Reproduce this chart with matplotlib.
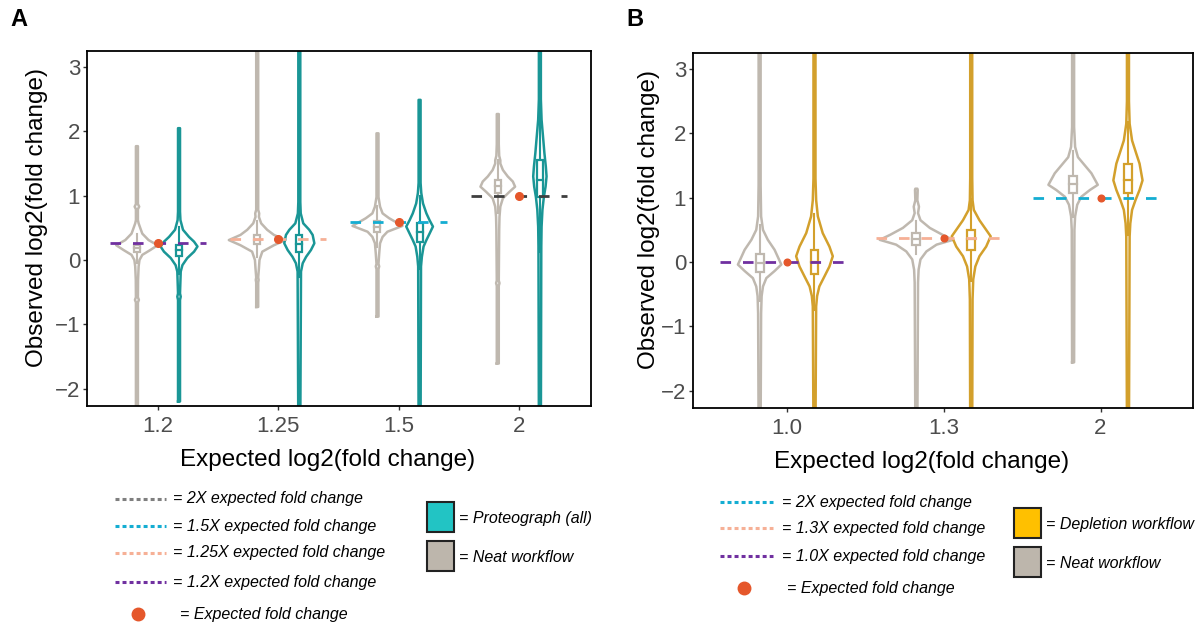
import numpy as np
import matplotlib.pyplot as plt
from matplotlib.lines import Line2D
from matplotlib.patches import Rectangle

plt.rcParams["font.family"] = ["Liberation Sans", "DejaVu Sans"]

# ---- panel A data ----
A_GROUPS = ["1.2", "1.25", "1.5", "2"]
A_EXPECTED = [0.263, 0.322, 0.585, 1.0]
A_REF_COLORS = ["#7030A0", "#F6B096", "#14ADD2", "#3F3F3F"]

# violin profiles: (log2 value, relative density)
A_NEAT_PROFILES = [
    [(-2.6, 0.035), (-0.66, 0.035), (-0.62, 0.07), (-0.58, 0.035), (-0.31, 0.04), (-0.10, 0.06),
     (0.0, 0.09), (0.08, 0.19), (0.155, 0.47), (0.23, 0.73), (0.31, 0.41), (0.41, 0.19),
     (0.47, 0.14), (0.57, 0.06), (0.62, 0.035), (0.79, 0.035), (0.83, 0.08), (0.87, 0.035), (1.77, 0.035)],
    [(-0.73, 0.035), (-0.35, 0.035), (-0.31, 0.05), (-0.27, 0.035), (-0.13, 0.06), (0.0, 0.08),
     (0.13, 0.18), (0.23, 0.59), (0.31, 1.0), (0.39, 0.59), (0.47, 0.35), (0.57, 0.14),
     (0.67, 0.06), (0.725, 0.07), (0.78, 0.035), (3.5, 0.035)],
    [(-0.88, 0.035), (-0.14, 0.035), (-0.10, 0.06), (-0.06, 0.035), (0.10, 0.06), (0.26, 0.09),
     (0.36, 0.18), (0.44, 0.35), (0.53, 0.88), (0.65, 0.41), (0.725, 0.18), (0.83, 0.09),
     (0.98, 0.035), (1.97, 0.035)],
    [(-1.61, 0.035), (-0.40, 0.035), (-0.36, 0.06), (-0.32, 0.035), (0.47, 0.05), (0.67, 0.06),
     (0.83, 0.09), (0.96, 0.18), (1.06, 0.41), (1.14, 0.61), (1.22, 0.53), (1.30, 0.35),
     (1.40, 0.18), (1.50, 0.09), (1.55, 0.09), (1.62, 0.05), (1.8, 0.035), (2.27, 0.035)],
]
A_PROT_PROFILES = [
    [(-2.2, 0.035), (-0.62, 0.035), (-0.57, 0.06), (-0.52, 0.035), (-0.18, 0.06), (-0.08, 0.12),
     (0.03, 0.29), (0.13, 0.53), (0.21, 0.65), (0.285, 0.53), (0.36, 0.35), (0.47, 0.14),
     (0.62, 0.05), (0.75, 0.035), (2.05, 0.035)],
    [(-2.6, 0.035), (-0.18, 0.06), (-0.05, 0.12), (0.05, 0.24), (0.155, 0.41), (0.26, 0.53),
     (0.39, 0.47), (0.47, 0.35), (0.57, 0.14), (0.725, 0.05), (0.9, 0.035), (3.5, 0.035)],
    [(-2.6, 0.035), (-0.1, 0.05), (0.05, 0.08), (0.21, 0.14), (0.31, 0.24), (0.41, 0.35),
     (0.52, 0.47), (0.62, 0.35), (0.725, 0.24), (0.88, 0.12), (1.04, 0.06), (1.2, 0.035), (2.49, 0.035)],
    [(-2.6, 0.035), (0.21, 0.05), (0.52, 0.06), (0.78, 0.09), (0.98, 0.14), (1.14, 0.2),
     (1.30, 0.235), (1.45, 0.21), (1.66, 0.16), (1.87, 0.12), (2.18, 0.06), (2.5, 0.035), (3.5, 0.035)],
]
# boxes: (whisker low, q1, median, q3, whisker high)
A_NEAT_BOX = [(-0.05, 0.12, 0.19, 0.23, 0.40), (0.04, 0.25, 0.31, 0.39, 0.60),
              (0.20, 0.44, 0.52, 0.60, 0.84), (0.73, 1.04, 1.15, 1.25, 1.56)]
A_PROT_BOX = [(-0.21, 0.06, 0.155, 0.24, 0.51), (-0.26, 0.13, 0.25, 0.39, 0.78),
              (-0.14, 0.285, 0.44, 0.57, 1.0), (0.12, 0.98, 1.25, 1.55, 2.4)]

# ---- panel B data ----
B_GROUPS = ["1.0", "1.3", "2"]
B_EXPECTED = [0.0, 0.379, 1.0]
B_REF_COLORS = ["#7030A0", "#F6B096", "#14ADD2"]

B_NEAT_PROFILES = [
    [(-2.6, 0.027), (-0.80, 0.04), (-0.53, 0.054), (-0.38, 0.09), (-0.25, 0.18), (-0.14, 0.40),
     (-0.04, 0.58), (0.19, 0.40), (0.345, 0.22), (0.50, 0.09), (0.71, 0.04), (1.2, 0.027), (3.5, 0.027)],
    [(-2.6, 0.027), (-0.32, 0.045), (-0.12, 0.06), (0.04, 0.11), (0.165, 0.27), (0.27, 0.54),
     (0.345, 0.98), (0.42, 0.71), (0.53, 0.36), (0.65, 0.11), (0.76, 0.045), (0.86, 0.07),
     (0.96, 0.027), (1.12, 0.036), (1.14, 0.027)],
    [(-1.56, 0.027), (0.50, 0.036), (0.71, 0.054), (0.89, 0.11), (1.015, 0.22), (1.12, 0.45),
     (1.20, 0.66), (1.38, 0.49), (1.505, 0.31), (1.63, 0.13), (1.79, 0.054), (2.1, 0.027), (3.5, 0.027)],
]
B_DEPL_PROFILES = [
    [(-2.6, 0.027), (-0.69, 0.045), (-0.53, 0.07), (-0.38, 0.13), (-0.22, 0.27), (-0.07, 0.40),
     (0.09, 0.49), (0.24, 0.40), (0.45, 0.22), (0.71, 0.09), (0.96, 0.045), (1.3, 0.027), (3.5, 0.027)],
    [(-2.6, 0.027), (-0.58, 0.036), (-0.27, 0.054), (-0.07, 0.11), (0.09, 0.22), (0.24, 0.40),
     (0.40, 0.52), (0.50, 0.40), (0.65, 0.22), (0.81, 0.07), (0.96, 0.036), (1.3, 0.027), (3.5, 0.027)],
    [(-2.6, 0.027), (0.40, 0.045), (0.60, 0.063), (0.81, 0.11), (0.96, 0.2), (1.12, 0.31),
     (1.27, 0.39), (1.53, 0.31), (1.69, 0.22), (1.89, 0.11), (2.15, 0.045), (2.5, 0.027), (3.5, 0.027)],
]
B_NEAT_BOX = [(-0.6, -0.16, -0.015, 0.13, 0.57), (0.13, 0.27, 0.355, 0.45, 0.64),
              (0.7, 1.08, 1.21, 1.335, 1.72)]
B_DEPL_BOX = [(-0.74, -0.18, 0.0, 0.19, 0.75), (-0.3, 0.18, 0.36, 0.50, 0.98),
              (0.42, 1.08, 1.27, 1.52, 2.17)]

A_LEGEND = ["= 2X expected fold change", "= 1.5X expected fold change",
            "= 1.25X expected fold change", "= 1.2X expected fold change"]
A_LEGEND_COLORS = ["#7F7F7F", "#14ADD2", "#F6B096", "#7030A0"]
B_LEGEND = ["= 2X expected fold change", "= 1.3X expected fold change",
            "= 1.0X expected fold change"]
B_LEGEND_COLORS = ["#14ADD2", "#F6B096", "#7030A0"]

NEAT = "#BFB8AF"
TEAL = "#1A9696"
GOLD = "#D3A02C"
DOT = "#E5572B"
OFFSET = 0.175
BOX_W = 0.025


def draw_violin(ax, cx, profile, wmax, color):
    ys = np.array([p[0] for p in profile])
    half = np.array([p[1] for p in profile]) * wmax
    xs = np.concatenate([cx - half, (cx + half)[::-1], [cx - half[0]]])
    yy = np.concatenate([ys, ys[::-1], [ys[0]]])
    ax.plot(xs, yy, color=color, lw=1.8, solid_joinstyle="round", zorder=2)


def draw_box(ax, cx, stats, color):
    lo, q1, med, q3, hi = stats
    ax.plot([cx, cx], [lo, q1], color=color, lw=1.5, zorder=3)
    ax.plot([cx, cx], [q3, hi], color=color, lw=1.5, zorder=3)
    ax.add_patch(Rectangle((cx - BOX_W, q1), 2 * BOX_W, q3 - q1, facecolor="white",
                           edgecolor=color, lw=1.6, zorder=4))
    ax.plot([cx - BOX_W, cx + BOX_W], [med, med], color=color, lw=1.6, zorder=5)


def style_axes(ax, groups, xlim, xlabel_x, ylabel_x):
    ax.set_xlim(*xlim)
    ax.set_ylim(-2.27, 3.25)
    ax.set_xticks(range(len(groups)))
    ax.set_xticklabels(groups)
    ax.set_yticks([-2, -1, 0, 1, 2, 3])
    ax.set_yticklabels(["\u22122", "\u22121", "0", "1", "2", "3"])
    ax.tick_params(labelsize=16, labelcolor="#4D4D4D", length=3, width=1, color="#333333")
    ax.tick_params(axis="x", pad=4)
    ax.tick_params(axis="y", pad=2)
    for s in ax.spines.values():
        s.set_linewidth(1.3)
        s.set_color("black")
    ax.set_xlabel("Expected log2(fold change)", fontsize=17.5)
    ax.set_ylabel("Observed log2(fold change)", fontsize=17.5)
    ax.xaxis.set_label_coords(xlabel_x, -0.122)
    ax.yaxis.set_label_coords(ylabel_x, 0.53)


def panel(ax, groups, expected, ref_colors, neat, other, neat_box, other_box, other_color, wmax,
          ref_half, dot_size):
    for i in range(len(groups)):
        draw_violin(ax, i - OFFSET, neat[i], wmax, NEAT)
        draw_violin(ax, i + OFFSET, other[i], wmax, other_color)
        draw_box(ax, i - OFFSET, neat_box[i], NEAT)
        draw_box(ax, i + OFFSET, other_box[i], other_color)
        ax.plot([i - ref_half, i + ref_half], [expected[i], expected[i]], color=ref_colors[i],
                lw=2.0, linestyle=(0, (3.8, 4.3)), zorder=6)
        ax.plot(i, expected[i], "o", color=DOT, markersize=dot_size, zorder=7)


fig = plt.figure(figsize=(12.04, 6.24), dpi=100)
W, H = 1204.0, 624.0

axA = fig.add_axes([87 / W, 1 - 406 / H, 504 / W, 355 / H])
panel(axA, A_GROUPS, A_EXPECTED, A_REF_COLORS, A_NEAT_PROFILES, A_PROT_PROFILES,
      A_NEAT_BOX, A_PROT_BOX, TEAL, 0.236, 0.40, 5.5)
style_axes(axA, A_GROUPS, (-0.59, 3.6), 0.478, -0.077)

axB = fig.add_axes([693 / W, 1 - 408 / H, 500 / W, 355 / H])
panel(axB, B_GROUPS, B_EXPECTED, B_REF_COLORS, B_NEAT_PROFILES, B_DEPL_PROFILES,
      B_NEAT_BOX, B_DEPL_BOX, GOLD, 0.2386, 0.43, 4.8)
style_axes(axB, B_GROUPS, (-0.6, 2.59), 0.458, -0.066)

fig.text(10 / W, 1 - 20 / H, "A", fontsize=17, fontweight="bold", va="center")
fig.text(626 / W, 1 - 20 / H, "B", fontsize=17, fontweight="bold", va="center")


def legend(x0, x1, xt, rows_y, labels, colors, dot_x, dot_tx, dot_y, boxes):
    for y, lab, c in zip(rows_y, labels, colors):
        fig.add_artist(Line2D([x0 / W, x1 / W], [1 - y / H, 1 - y / H], color=c, lw=2.2,
                              linestyle=(0, (1.3, 1.0)), transform=fig.transFigure))
        fig.text(xt / W, 1 - y / H, lab, fontsize=11.5, style="italic", va="center")
    fig.add_artist(Line2D([dot_x / W], [1 - dot_y / H], marker="o", color=DOT, markersize=9,
                          transform=fig.transFigure))
    fig.text(dot_tx / W, 1 - dot_y / H, "= Expected fold change", fontsize=11.5,
             style="italic", va="center")
    for bx, by, fc, lab in boxes:
        fig.add_artist(Rectangle((bx / W, 1 - (by + 30) / H), 27 / W, 30 / H, facecolor=fc,
                                 edgecolor="#222222", lw=1.5, transform=fig.transFigure))
        fig.text((bx + 32) / W, 1 - (by + 16) / H, lab, fontsize=11.5, style="italic", va="center")


legend(115, 166, 173, [499, 526, 553, 582], A_LEGEND, A_LEGEND_COLORS, 138, 180, 614,
       [(427, 502, "#22C4C4", "= Proteograph (all)"), (427, 541, "#BDB6AC", "= Neat workflow")])
legend(720, 773, 782, [502, 528, 556], B_LEGEND, B_LEGEND_COLORS, 744, 787, 588,
       [(1014, 508, "#FFC000", "= Depletion workflow"), (1014, 547, "#BDB6AC", "= Neat workflow")])

fig.savefig("out.png", dpi=100)
